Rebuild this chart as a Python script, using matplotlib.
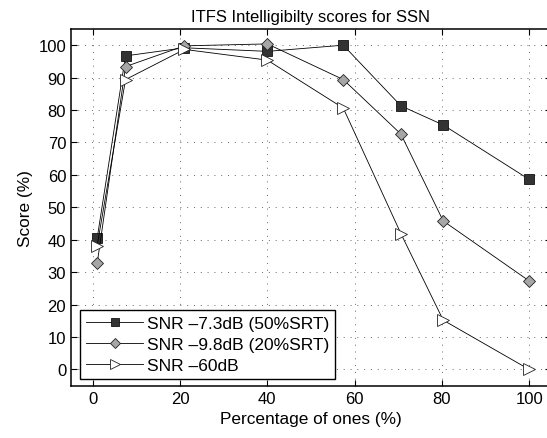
import numpy as np
import matplotlib.pyplot as plt

plt.rcParams['font.family'] = ['Liberation Sans', 'DejaVu Sans']

# percentage of ones
pct = [1, 7.5, 21, 40, 57.4, 70.6, 80.3, 100]

snr_73 = [40.5, 96.7, 99.2, 98.1, 100.0, 81.3, 75.4, 58.6]
snr_98 = [32.7, 93.4, 99.8, 100.4, 89.4, 72.6, 45.8, 27.3]
snr_60 = [38.2, 89.4, 98.7, 95.4, 80.6, 41.9, 15.2, 0.0]

labels = ["SNR \u20137.3dB (50%SRT)", "SNR \u20139.8dB (20%SRT)", "SNR \u201360dB"]

fig = plt.figure(figsize=(5.47, 4.39), dpi=100)
# right edge runs just past the image like the original
ax = fig.add_axes([0.1298, 0.1192, 0.8775, 0.8125])

lw = 0.6
ax.plot(pct, snr_73, "-", color="k", lw=lw, marker="s", ms=6.5,
        mfc="#333333", mec="#111111", mew=0.6, label=labels[0])
ax.plot(pct, snr_98, "-", color="k", lw=lw, marker="D", ms=6,
        mfc="#a6a6a6", mec="#222222", mew=0.6, label=labels[1])
ax.plot(pct, snr_60, "-", color="k", lw=lw, marker=">", ms=8.5,
        mfc="white", mec="#222222", mew=0.6, label=labels[2])

ax.set_xlim([-5, 105])
ax.set_ylim([-5, 105])
ax.set_xticks(np.arange(0, 101, 20))
ax.set_yticks(np.arange(0, 101, 10))
ax.grid(True, linestyle=(0, (1, 6)), color="#666666", lw=0.7)
ax.tick_params(direction="in", top=True, right=True, labelsize=12, length=4,
               width=0.8)
for s in ax.spines.values():
    s.set_linewidth(1.1)

ax.set_xlabel("Percentage of ones (%)", fontsize=12.4)
ax.set_ylabel("Score (%)", fontsize=12.4)
ax.set_title("ITFS Intelligibilty scores for SSN", fontsize=12)

leg = ax.legend(loc="lower left", fontsize=12.5, handlelength=3.3,
                fancybox=False, framealpha=1, edgecolor="k",
                borderpad=0.35, labelspacing=0.32, handletextpad=0.2,
                borderaxespad=0, markerscale=0.85,
                bbox_to_anchor=(0.019, 0.019))
leg.get_frame().set_linewidth(1.0)

fig.savefig("out.png", dpi=100)
